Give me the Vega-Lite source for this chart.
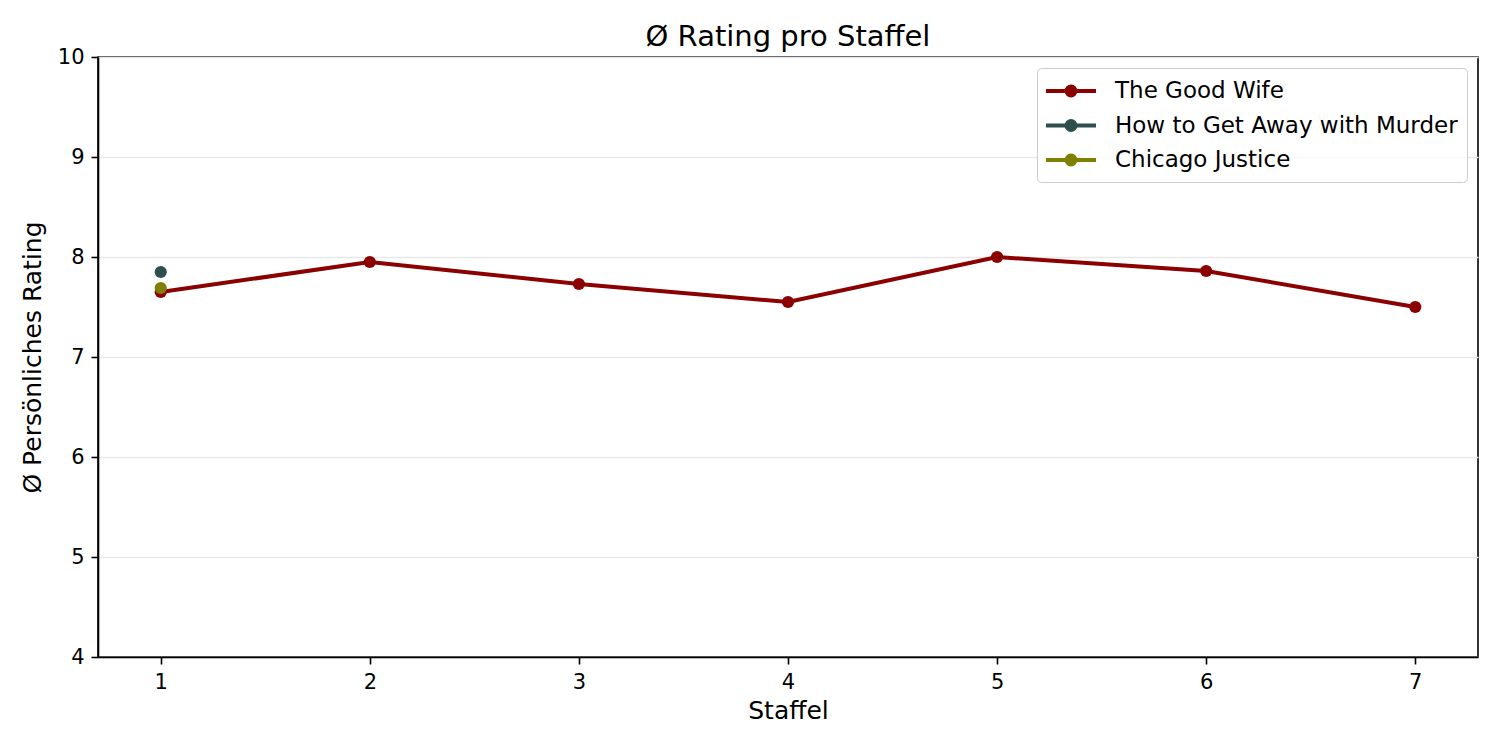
{
  "$schema": "https://vega.github.io/schema/vega-lite/v6.json",
  "width": 1380,
  "height": 600,
  "autosize": {"type": "none"},
  "padding": {"left": 98, "top": 57, "right": 22, "bottom": 93},
  "background": "white",
  "config": {
    "font": "DejaVu Sans",
    "view": {"stroke": "black", "strokeWidth": 1.6},
    "axis": {
      "labelFont": "DejaVu Sans",
      "titleFont": "DejaVu Sans",
      "labelFontSize": 21,
      "titleFontSize": 25,
      "titleFontWeight": "normal",
      "labelColor": "black",
      "titleColor": "black",
      "domainColor": "black",
      "domainWidth": 1.6,
      "tickColor": "black",
      "tickWidth": 1.6,
      "tickSize": 7,
      "labelPadding": 7
    },
    "legend": {
      "labelFont": "DejaVu Sans",
      "labelFontSize": 23,
      "labelColor": "black",
      "labelLimit": 500
    }
  },
  "title": {
    "text": "Ø Rating pro Staffel",
    "font": "DejaVu Sans",
    "fontSize": 29,
    "fontWeight": "normal",
    "color": "black",
    "anchor": "middle",
    "offset": -6
  },
  "data": {
    "values": [
      {"serie": "The Good Wife", "staffel": 1, "rating": 7.65},
      {"serie": "The Good Wife", "staffel": 2, "rating": 7.95},
      {"serie": "The Good Wife", "staffel": 3, "rating": 7.73},
      {"serie": "The Good Wife", "staffel": 4, "rating": 7.55},
      {"serie": "The Good Wife", "staffel": 5, "rating": 8.0},
      {"serie": "The Good Wife", "staffel": 6, "rating": 7.86},
      {"serie": "The Good Wife", "staffel": 7, "rating": 7.5},
      {"serie": "How to Get Away with Murder", "staffel": 1, "rating": 7.85},
      {"serie": "Chicago Justice", "staffel": 1, "rating": 7.69}
    ]
  },
  "encoding": {
    "x": {
      "field": "staffel",
      "type": "quantitative",
      "title": "Staffel",
      "scale": {"domain": [0.7, 7.3], "nice": false, "zero": false},
      "axis": {"values": [1, 2, 3, 4, 5, 6, 7], "grid": false, "titlePadding": 6, "format": "d"}
    },
    "y": {
      "field": "rating",
      "type": "quantitative",
      "title": "Ø Persönliches Rating",
      "scale": {"domain": [4, 10], "nice": false, "zero": false},
      "axis": {"values": [4, 5, 6, 7, 8, 9, 10], "grid": true, "gridColor": "#e8e8e8", "gridWidth": 1.3, "titlePadding": 12, "format": "d"}
    },
    "color": {
      "field": "serie",
      "type": "nominal",
      "scale": {
        "domain": ["The Good Wife", "How to Get Away with Murder", "Chicago Justice"],
        "range": ["#8b0000", "#2f4f4f", "#808000"]
      },
      "legend": {
        "title": null,
        "orient": "top-right",
        "offset": 11,
        "fillColor": "rgba(255,255,255,0.8)",
        "strokeColor": "#cccccc",
        "cornerRadius": 4,
        "padding": 9,
        "rowPadding": 7.5,
        "labelOffset": 41,
        "symbolType": "M-1.17,0L3,0M0.542,0A0.375,0.375,0,1,1,1.292,0A0.375,0.375,0,1,1,0.542,0Z",
        "symbolSize": 576,
        "symbolStrokeWidth": 4,
        "encode": {
          "symbols": {
            "update": {
              "fill": {"scale": "color", "field": "value"},
              "stroke": {"scale": "color", "field": "value"},
              "strokeWidth": {"value": 4},
              "opacity": {"value": 1}
            }
          }
        }
      }
    }
  },
  "layer": [
    {"mark": {"type": "line", "strokeWidth": 4}},
    {"mark": {"type": "point", "filled": true, "size": 150, "opacity": 1}}
  ]
}
